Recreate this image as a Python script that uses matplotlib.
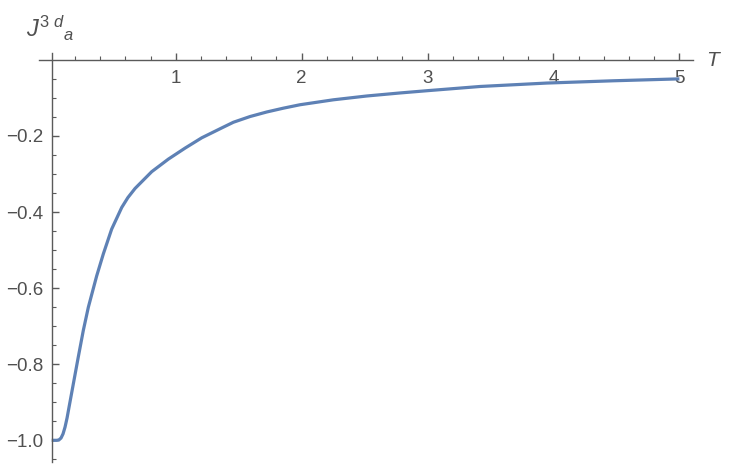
import matplotlib
matplotlib.use("Agg")
import matplotlib.pyplot as plt
from matplotlib.ticker import FixedLocator, FuncFormatter

plt.rcParams['font.family'] = ['Liberation Sans', 'DejaVu Sans']
plt.rcParams['mathtext.fontset'] = 'custom'
plt.rcParams['mathtext.rm'] = 'Liberation Sans'
plt.rcParams['mathtext.it'] = 'Liberation Sans:italic'

T = [0.015, 0.055, 0.072, 0.089, 0.105, 0.121, 0.137, 0.153, 0.187, 0.226,
     0.266, 0.306, 0.372, 0.425, 0.491, 0.571, 0.62, 0.677, 0.809, 0.941,
     1.074, 1.206, 1.365, 1.458, 1.59, 1.723, 1.855, 1.987, 2.252, 2.517,
     2.782, 3.0, 3.417, 3.947, 4.476, 5.0]
J = [-1.0, -1.0, -0.999, -0.994, -0.983, -0.965, -0.941, -0.912, -0.851, -0.781,
     -0.711, -0.650, -0.568, -0.510, -0.445, -0.388, -0.362, -0.338, -0.294, -0.261,
     -0.232, -0.205, -0.179, -0.164, -0.149, -0.137, -0.127, -0.118, -0.105, -0.095,
     -0.087, -0.081, -0.070, -0.061, -0.055, -0.050]
x_ticks = [1, 2, 3, 4, 5]
y_ticks = [-1.0, -0.8, -0.6, -0.4, -0.2]

axis_col = '#5a5a5a'
text_col = '#505050'
line_col = '#5E81B5'

W, H = 730, 474
fig = plt.figure(figsize=(W/100, H/100), dpi=100)
ax = fig.add_axes([39/W, 1-462/H, (693-39)/W, (462-53)/H])

ax.plot(T, J, color=line_col, lw=2.3, solid_joinstyle='round', solid_capstyle='butt')

ax.set_xlim(-0.086, 5.108)
ax.set_ylim(-1.057, 0.018)

for s in ['top', 'right']:
    ax.spines[s].set_visible(False)
ax.spines['left'].set_position(('data', 0.015))
ax.spines['bottom'].set_position(('data', 0.0))
for s in ['left', 'bottom']:
    ax.spines[s].set_color(axis_col)
    ax.spines[s].set_linewidth(1.0)

ax.xaxis.set_major_locator(FixedLocator(x_ticks))
ax.xaxis.set_minor_locator(FixedLocator([0.2*i for i in range(1, 26) if i % 5 != 0]))
ax.yaxis.set_major_locator(FixedLocator(y_ticks))
ax.yaxis.set_minor_locator(FixedLocator([-0.05, -0.1, -0.15, -0.25, -0.3, -0.35, -0.45, -0.5,
                                         -0.55, -0.65, -0.7, -0.75, -0.85, -0.9, -0.95, -1.05]))
ax.xaxis.set_major_formatter(FuncFormatter(lambda v, p: f"{v:.0f}"))
ax.yaxis.set_major_formatter(FuncFormatter(lambda v, p: f"{v:.1f}".replace('-', '\u2212')))

ax.tick_params(axis='both', which='major', direction='in', length=5, width=1.0,
               color=axis_col, labelcolor=text_col, labelsize=13.5)
ax.tick_params(axis='both', which='minor', direction='in', length=3, width=0.8, color=axis_col)
ax.tick_params(axis='x', which='major', pad=7)
ax.tick_params(axis='y', which='major', pad=6)

fig.text(706/W, 1-60/H, 'T', fontsize=15, style='italic', color=text_col,
         ha='left', va='center')
fig.text(26/W, 1-37/H, r'$J^{3\ d}{}_{a}$', fontsize=17, color=text_col,
         ha='left', va='baseline')

fig.savefig('out.png', dpi=100)
